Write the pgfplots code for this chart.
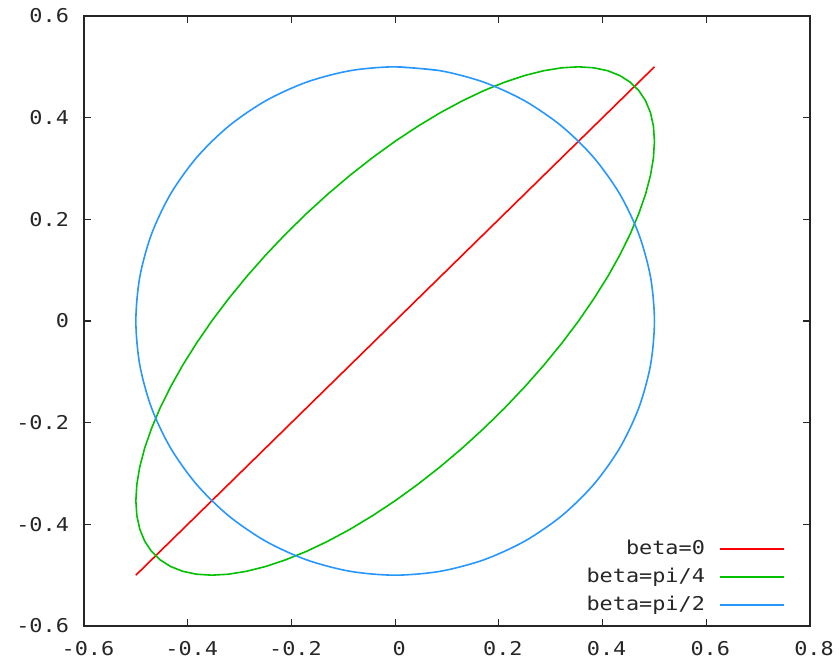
\documentclass[border=0pt]{standalone}
\usepackage{fontspec}
\usepackage{pgfplots}
\pgfplotsset{compat=1.18}
\newfontfamily\gpfont[FakeStretch=1.15]{DejaVu Sans Mono}
\definecolor{gpred}{RGB}{255,0,0}
\definecolor{gpgreen}{RGB}{0,192,0}
\definecolor{gpblue}{RGB}{40,150,255}
\begin{document}
\begin{tikzpicture}
\begin{axis}[
  scale only axis,
  width=363pt, height=305pt,
  xmin=-0.6, xmax=0.8, ymin=-0.6, ymax=0.6,
  xtick={-0.6,-0.4,-0.2,0,0.2,0.4,0.6,0.8},
  ytick={-0.6,-0.4,-0.2,0,0.2,0.4,0.6},
  xticklabels={-0.6,-0.4,-0.2,0,0.2,0.4,0.6,0.8},
  yticklabels={-0.6,-0.4,-0.2,0,0.2,0.4,0.6},
  tick align=inside,
  major tick length=3.5pt,
  axis line style={line width=0.6pt, black!85},
  every tick/.style={line width=0.6pt, black!85},
  tick label style={font=\fontsize{9.5}{11}\gpfont, black!85},
  xticklabel style={yshift=-4pt, xshift=2pt},
  yticklabel style={xshift=-4pt},
  legend style={draw=none, fill=none, at={(0.974,0.007)}, anchor=south east,
    font=\fontsize{9.5}{11}\gpfont, row sep=1.2pt, text=black!85,
    column sep=5pt},
  legend cell align=right,
  legend plot pos=right,
  legend image code/.code={\draw[#1, line width=0.9pt] (0pt,0pt) -- (32pt,0pt);},
]
\addplot[gpred, line width=0.8pt] coordinates {(-0.5,-0.5) (0.5,0.5)};
\addlegendentry{beta=0}
\addplot[gpgreen, line width=0.8pt] coordinates {
(0,0.3536) (0.0436,0.3830) (0.0868,0.4096) (0.1294,0.4330) (0.1710,0.4532) (0.2113,0.4698)
(0.25,0.4830) (0.2868,0.4924) (0.3214,0.4981) (0.3536,0.5) (0.3830,0.4981) (0.4096,0.4924)
(0.4330,0.4830) (0.4532,0.4698) (0.4698,0.4532) (0.4830,0.4330) (0.4924,0.4096) (0.4981,0.3830)
(0.5,0.3536) (0.4981,0.3214) (0.4924,0.2868) (0.4830,0.25) (0.4698,0.2113) (0.4532,0.1710)
(0.4330,0.1294) (0.4096,0.0868) (0.3830,0.0436) (0.3536,0) (0.3214,-0.0436) (0.2868,-0.0868)
(0.25,-0.1294) (0.2113,-0.1710) (0.1710,-0.2113) (0.1294,-0.25) (0.0868,-0.2868) (0.0436,-0.3214)
(0,-0.3536) (-0.0436,-0.3830) (-0.0868,-0.4096) (-0.1294,-0.4330) (-0.1710,-0.4532) (-0.2113,-0.4698)
(-0.25,-0.4830) (-0.2868,-0.4924) (-0.3214,-0.4981) (-0.3536,-0.5) (-0.3830,-0.4981) (-0.4096,-0.4924)
(-0.4330,-0.4830) (-0.4532,-0.4698) (-0.4698,-0.4532) (-0.4830,-0.4330) (-0.4924,-0.4096) (-0.4981,-0.3830)
(-0.5,-0.3536) (-0.4981,-0.3214) (-0.4924,-0.2868) (-0.4830,-0.25) (-0.4698,-0.2113) (-0.4532,-0.1710)
(-0.4330,-0.1294) (-0.4096,-0.0868) (-0.3830,-0.0436) (-0.3536,0) (-0.3214,0.0436) (-0.2868,0.0868)
(-0.25,0.1294) (-0.2113,0.1710) (-0.1710,0.2113) (-0.1294,0.25) (-0.0868,0.2868) (-0.0436,0.3214)
(0,0.3536)
};
\addlegendentry{beta=pi/4}
\addplot[gpblue, line width=0.8pt, smooth] coordinates {
(0,0.5) (0.0868,0.4924) (0.1710,0.4698) (0.25,0.4330) (0.3214,0.3830) (0.3830,0.3214)
(0.4330,0.25) (0.4698,0.1710) (0.4924,0.0868) (0.5,0) (0.4924,-0.0868) (0.4698,-0.1710)
(0.4330,-0.25) (0.3830,-0.3214) (0.3214,-0.3830) (0.25,-0.4330) (0.1710,-0.4698) (0.0868,-0.4924)
(0,-0.5) (-0.0868,-0.4924) (-0.1710,-0.4698) (-0.25,-0.4330) (-0.3214,-0.3830) (-0.3830,-0.3214)
(-0.4330,-0.25) (-0.4698,-0.1710) (-0.4924,-0.0868) (-0.5,0) (-0.4924,0.0868) (-0.4698,0.1710)
(-0.4330,0.25) (-0.3830,0.3214) (-0.3214,0.3830) (-0.25,0.4330) (-0.1710,0.4698) (-0.0868,0.4924)
(0,0.5) (0.0868,0.4924)
};
\addlegendentry{beta=pi/2}
\end{axis}
\pgfresetboundingbox
\path (-42pt,-21.5pt) rectangle (377.5pt,313pt);
\end{tikzpicture}
\end{document}
